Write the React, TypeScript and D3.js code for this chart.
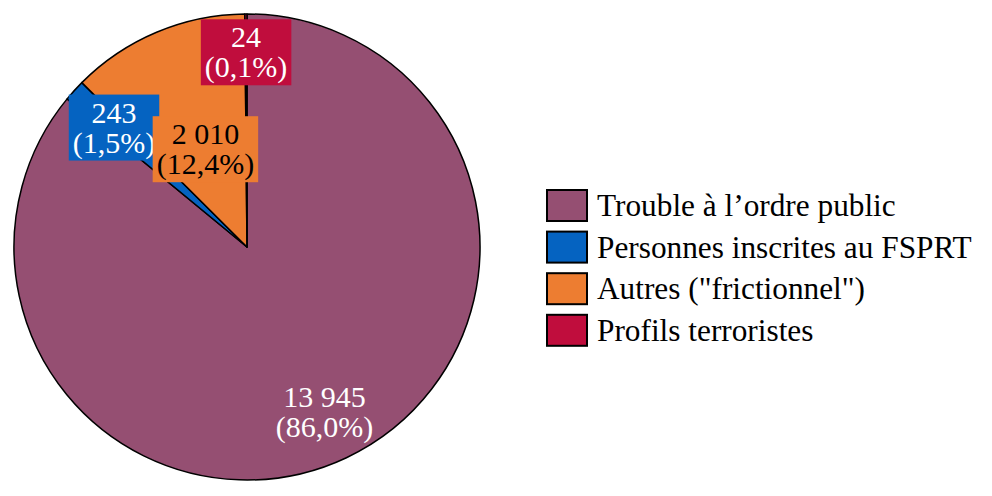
import * as d3 from 'd3'
import { useEffect, useRef } from 'react'

const WIDTH = 992
const HEIGHT = 496

const categories = [
  'Trouble à l’ordre public',
  'Personnes inscrites au FSPRT',
  'Autres ("frictionnel")',
  'Profils terroristes',
]
const values = [13945, 243, 2010, 24]
const valueLabels = ['13 945', '243', '2 010', '24']
const pctLabels = ['(86,0%)', '(1,5%)', '(12,4%)', '(0,1%)']
const colors = ['#954F72', '#0563C1', '#ED7D31', '#C00D3D']
const labelColors = ['#ffffff', '#ffffff', '#000000', '#ffffff']
// how far out the label sits, as a share of the radius
const labelRadius = [0.78, 0.77, 0.46, 0.84]
const labelBoxed = [false, true, true, true]

const FONT = '"Liberation Serif", "Times New Roman", serif'

export default function App() {
  const ref = useRef<SVGSVGElement>(null)

  useEffect(() => {
    const svg = d3.select(ref.current)
    svg.selectAll('*').remove()

    const cx = 247
    const cy = 247
    const r = 233

    const pie = d3
      .pie<number>()
      .sort(null)
      .value((d) => d)
    const arcs = pie(values)
    const arc = d3.arc<d3.PieArcDatum<number>>().innerRadius(0).outerRadius(r)

    const g = svg.append('g').attr('transform', `translate(${cx},${cy})`)

    g.selectAll('path')
      .data(arcs)
      .join('path')
      .attr('d', arc)
      .attr('fill', (_, i) => colors[i])
      .attr('stroke', '#000')
      .attr('stroke-width', 1.5)
      .attr('stroke-linejoin', 'round')

    // labels
    arcs.forEach((a, i) => {
      const lr = labelRadius[i] * r
      const pos = d3.arc<d3.PieArcDatum<number>>().innerRadius(lr).outerRadius(lr).centroid(a)
      const lg = g.append('g').attr('transform', `translate(${pos[0]},${pos[1]})`)
      const rect = lg.append('rect').attr('fill', colors[i])
      const t = lg
        .append('text')
        .attr('text-anchor', 'middle')
        .attr('font-family', FONT)
        .attr('font-size', 30)
        .attr('fill', labelColors[i])
      t.append('tspan').attr('x', 0).attr('y', -4).text(valueLabels[i])
      t.append('tspan').attr('x', 0).attr('y', 26).text(pctLabels[i])
      const bb = (t.node() as SVGTextElement).getBBox()
      if (labelBoxed[i]) {
        rect
          .attr('x', bb.x - 4)
          .attr('y', bb.y - 1)
          .attr('width', bb.width + 8)
          .attr('height', bb.height + 2)
      } else {
        rect.remove()
      }
    })

    // legend
    const legend = svg.append('g').attr('transform', 'translate(547,190)')
    const rowY = d3.scaleLinear().domain([0, 1]).range([0, 41.6])
    categories.forEach((c, i) => {
      const row = legend.append('g').attr('transform', `translate(0,${rowY(i)})`)
      row
        .append('rect')
        .attr('width', 40)
        .attr('height', 31)
        .attr('fill', colors[i])
        .attr('stroke', '#000')
        .attr('stroke-width', 2)
      row
        .append('text')
        .attr('x', 50)
        .attr('y', 26)
        .attr('font-family', FONT)
        .attr('font-size', 31.3)
        .attr('fill', '#000')
        .text(c)
    })
  }, [])

  return (
    <svg
      ref={ref}
      width={WIDTH}
      height={HEIGHT}
      style={{ display: 'block', position: 'absolute', left: 0, top: 0, background: '#fff' }}
    />
  )
}
